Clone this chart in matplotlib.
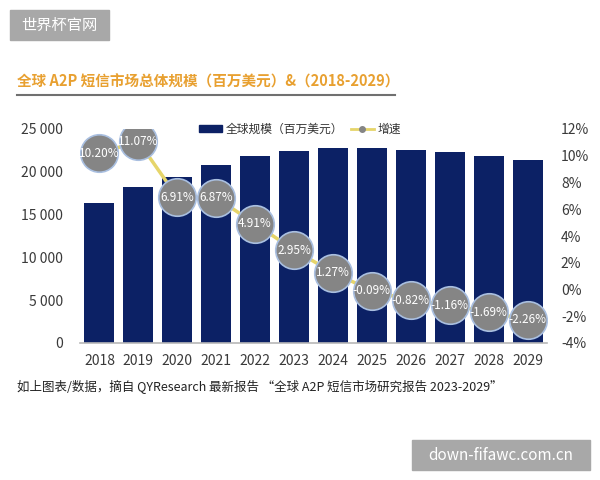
import matplotlib
matplotlib.use("Agg")
import matplotlib.pyplot as plt
from matplotlib.patches import Rectangle
from matplotlib.lines import Line2D

plt.rcParams['font.family'] = ['Noto Sans CJK SC', 'DejaVu Sans']

years = ['2018', '2019', '2020', '2021', '2022', '2023', '2024', '2025', '2026', '2027', '2028', '2029']
market_size = [16400, 18200, 19450, 20800, 21800, 22450, 22750, 22730, 22540, 22280, 21900, 21400]
growth = [10.20, 11.07, 6.91, 6.87, 4.91, 2.95, 1.27, -0.09, -0.82, -1.16, -1.69, -2.26]
growth_labels = ['10.20%', '11.07%', '6.91%', '6.87%', '4.91%', '2.95%', '1.27%', '-0.09%', '-0.82%', '-1.16%', '-1.69%', '-2.26%']
left_ticks = [0, 5000, 10000, 15000, 20000, 25000]
left_tick_labels = ['0', '5 000', '10 000', '15 000', '20 000', '25 000']
right_ticks = [-4, -2, 0, 2, 4, 6, 8, 10, 12]
right_tick_labels = ['-4%', '-2%', '0%', '2%', '4%', '6%', '8%', '10%', '12%']

navy = '#0c2165'
tick_color = '#3a3a3a'

fig = plt.figure(figsize=(6, 4.8), dpi=100)
ax = fig.add_axes([80/600, 1-343/480, 467/600, 214/480])
x = list(range(len(years)))
ax.bar(x, market_size, width=0.77, color=navy, zorder=2)
ax.set_xlim(-0.5, len(years) - 0.5)
ax.set_ylim(0, 25000)
ax.set_yticks(left_ticks)
ax.set_yticklabels(left_tick_labels, fontsize=10, color=tick_color)
ax.set_xticks(x)
ax.set_xticklabels(years, fontsize=10, color=tick_color)
ax.tick_params(axis='both', length=0, pad=8)
ax.tick_params(axis='y', pad=12)
for s in ['top', 'right', 'left']:
    ax.spines[s].set_visible(False)
ax.spines['bottom'].set_color('#b8b8b8')
ax.spines['bottom'].set_linewidth(1.2)

ax2 = ax.twinx()
ax2.set_ylim(-4, 12)
ax2.set_yticks(right_ticks)
ax2.set_yticklabels(right_tick_labels, fontsize=10, color=tick_color)
ax2.tick_params(axis='y', length=0, pad=10)
for s in ax2.spines.values():
    s.set_visible(False)
ax2.plot(x, growth, color='#e6d56a', linewidth=2.5, zorder=3)
ax2.plot(x, growth, linestyle='none', marker='o', markersize=27,
         markerfacecolor='#858585', markeredgecolor='#a9bfe0', markeredgewidth=1.2, zorder=4)
for xi, g, lab in zip(x, growth, growth_labels):
    ax2.text(xi, g, lab, ha='center', va='center', fontsize=8.5, color='white',
             zorder=5, clip_on=False)

# legend
handles = [Rectangle((0, 0), 1, 1, color=navy),
           Line2D([0], [0], color='#e6d56a', linewidth=2, marker='o', markersize=4,
                  markerfacecolor='#858585', markeredgecolor='#858585')]
fig.legend(handles, ['全球规模（百万美元）', '增速'], loc='center', ncol=2,
           bbox_to_anchor=(300/600, 1-129/480), frameon=False, fontsize=8.5,
           handlelength=2.0, handleheight=0.5, columnspacing=0.6, handletextpad=0.3,
           labelcolor='#333333', borderpad=0)

# title
fig.text(17/600, 1-82/480, '全球 A2P 短信市场总体规模（百万美元）&（2018-2029）',
         fontsize=10.5, color='#e8a030', fontweight='bold', va='center', ha='left')
fig.add_artist(Line2D([17/600, 395/600], [1-95/480, 1-95/480], color='#707070', linewidth=1.5))

# footer
fig.text(17/600, 1-387/480, '如上图表/数据，摘自 QYResearch 最新报告 “全球 A2P 短信市场研究报告 2023-2029”',
         fontsize=9, color='#222222', va='center', ha='left')

# watermark boxes
fig.add_artist(Rectangle((10/600, 1-40/480), 99/600, 30/480, color='#a8a8a8', transform=fig.transFigure))
fig.text(59/600, 1-25/480, '世界杯官网', fontsize=11, color='white', ha='center', va='center')
fig.add_artist(Rectangle((412/600, 1-470/480), 178/600, 30/480, color='#a8a8a8', transform=fig.transFigure))
fig.text(501/600, 1-455/480, 'down-fifawc.com.cn', fontsize=11, color='white', ha='center', va='center')

fig.savefig('out.png', dpi=100)
